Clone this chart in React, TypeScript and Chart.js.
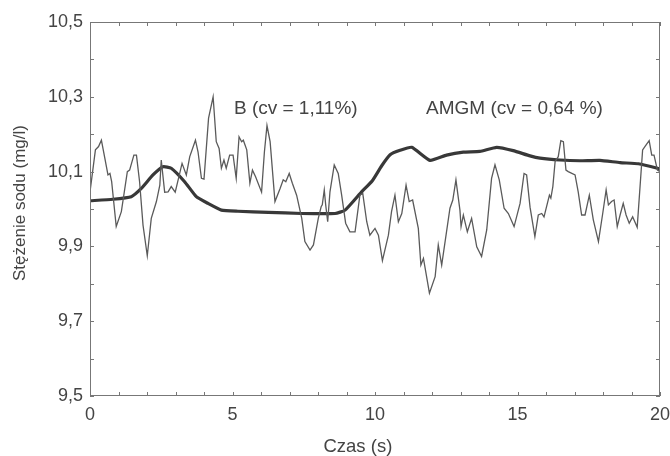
import React, { useEffect, useRef } from "react";
import { Chart, registerables } from "chart.js";

Chart.register(...registerables);

// Series B (thin, noisy)
const B_TIME = [
  0.0, 0.19, 0.3, 0.4, 0.51, 0.63, 0.7, 0.76, 0.92, 1.1, 1.31, 1.39, 1.54, 1.63, 1.74, 1.86, 2.01, 2.15, 2.33, 2.45,
  2.5, 2.62, 2.74, 2.85, 2.99, 3.23, 3.38, 3.5, 3.7, 3.79, 3.91, 4.0, 4.16, 4.32, 4.43, 4.53, 4.61, 4.7, 4.78, 4.9,
  5.02, 5.13, 5.23, 5.32, 5.38, 5.5, 5.61, 5.7, 5.81, 6.02, 6.12, 6.21, 6.32, 6.49, 6.67, 6.78, 6.87, 6.99, 7.1, 7.25,
  7.43, 7.54, 7.72, 7.84, 8.01, 8.11, 8.15, 8.22, 8.27, 8.34, 8.42, 8.57, 8.71, 8.83, 8.97, 9.12, 9.3, 9.47, 9.57, 9.71,
  9.82, 10.0, 10.12, 10.26, 10.47, 10.58, 10.7, 10.82, 10.94, 11.09, 11.2, 11.32, 11.52, 11.61, 11.7, 11.91, 12.11, 12.22, 12.34, 12.63,
  12.73, 12.84, 12.98, 13.02, 13.1, 13.24, 13.39, 13.57, 13.74, 13.92, 14.09, 14.21, 14.36, 14.53, 14.68, 14.88, 15.09, 15.23, 15.32, 15.44,
  15.61, 15.73, 15.85, 15.93, 16.12, 16.17, 16.24, 16.32, 16.43, 16.52, 16.61, 16.7, 16.78, 17.02, 17.13, 17.25, 17.37, 17.52, 17.66, 17.84,
  17.99, 18.11, 18.19, 18.3, 18.39, 18.5, 18.6, 18.71, 18.81, 18.92, 19.04, 19.2, 19.39, 19.47, 19.62, 19.71, 19.79, 19.91, 20.0,
];
const B_VALUES = [
  10.046, 10.158, 10.167, 10.184, 10.14, 10.091, 10.095, 10.073, 9.953, 9.993, 10.1, 10.104, 10.144, 10.144, 10.073, 9.957, 9.875, 9.975, 10.02, 10.064,
  10.131, 10.045, 10.046, 10.06, 10.045, 10.122, 10.091, 10.14, 10.184, 10.153, 10.082, 10.08, 10.243, 10.3, 10.18, 10.162, 10.109, 10.131, 10.109, 10.144,
  10.144, 10.082, 10.193, 10.18, 10.184, 10.158, 10.069, 10.104, 10.086, 10.045, 10.153, 10.223, 10.18, 10.02, 10.055, 10.078, 10.073, 10.095, 10.069, 10.037,
  9.975, 9.913, 9.89, 9.904, 9.975, 10.006, 10.011, 10.051, 10.011, 9.966, 10.046, 10.118, 10.095, 10.037, 9.962, 9.939, 9.939, 10.037, 10.042, 9.966,
  9.93, 9.948, 9.93, 9.862, 9.93, 9.993, 10.037, 9.966, 9.988, 10.064, 10.02, 10.024, 9.948, 9.85, 9.868, 9.775, 9.819, 9.904, 9.85, 10.002,
  10.024, 10.078, 9.997, 9.953, 9.984, 9.939, 9.975, 9.899, 9.873, 9.944, 10.082, 10.118, 10.078, 10.002, 9.988, 9.953, 10.015, 10.095, 10.091, 10.005,
  9.926, 9.984, 9.988, 9.979, 10.037, 10.029, 10.06, 10.127, 10.14, 10.183, 10.18, 10.104, 10.1, 10.091, 10.046, 9.984, 9.984, 10.037, 9.971, 9.913,
  9.988, 10.051, 10.011, 10.02, 10.024, 9.953, 9.984, 10.015, 9.984, 9.962, 9.979, 9.951, 10.158, 10.167, 10.183, 10.144, 10.144, 10.104, 10.1,
];

// Series AMGM (thick, smooth)
const AMGM_TIME = [
  0, 0.8, 1.45, 1.8, 2.21, 2.56, 2.85, 3.32, 3.73, 4.14, 4.61, 5.19, 6.26, 7.43, 8.6, 8.95, 9.53, 9.9, 10.23, 10.53,
  10.88, 11.29, 11.93, 12.51, 13.1, 13.68, 14.27, 14.85, 15.44, 15.79, 16.49, 17.19, 17.89, 18.6, 19.24, 19.91, 20.0,
];
const AMGM_VALUES = [
  10.022, 10.026, 10.033, 10.055, 10.091, 10.113, 10.109, 10.073, 10.033, 10.015, 9.997, 9.994, 9.991, 9.988, 9.988, 9.997, 10.046, 10.075, 10.115, 10.145,
  10.157, 10.165, 10.13, 10.144, 10.152, 10.154, 10.165, 10.156, 10.142, 10.136, 10.131, 10.129, 10.13, 10.124, 10.121, 10.109, 10.106,
];

const X_TICKS = [0, 5, 10, 15, 20];
const X_MINOR = [1, 2, 3, 4, 6, 7, 8, 9, 11, 12, 13, 14, 16, 17, 18, 19];
const Y_TICKS = [9.5, 9.7, 9.9, 10.1, 10.3, 10.5];
const Y_MINOR = [9.6, 9.8, 10.0, 10.2, 10.4];

const X_TITLE = "Czas (s)";
const Y_TITLE = "Stężenie sodu (mg/l)";

const ANNOTATIONS = [
  { text: "B (cv = 1,11%)", x: 5.05, y: 10.267 },
  { text: "AMGM (cv = 0,64 %)", x: 11.79, y: 10.267 },
];

const FONT = "'Liberation Sans', Arial, sans-serif";
const TEXT_COLOR = "#444";

const fmt = (v: number) => v.toFixed(1).replace(".", ",");

export default function App() {
  const ref = useRef<HTMLCanvasElement | null>(null);

  useEffect(() => {
    document.body.style.margin = "0";
    if (!ref.current) return;

    const frame = {
      id: "frame",
      afterDraw(chart: any) {
        const { ctx, chartArea } = chart;
        const xs = chart.scales.x;
        const ys = chart.scales.y;
        const { left, right, top, bottom } = chartArea;
        ctx.save();
        ctx.strokeStyle = "#777";
        ctx.lineWidth = 1;
        ctx.strokeRect(left + 0.5, top + 0.5, right - left - 1, bottom - top - 1);
        ctx.beginPath();
        const tl = 4;
        [...X_TICKS, ...X_MINOR].forEach((t) => {
          const px = Math.round(xs.getPixelForValue(t)) + 0.5;
          ctx.moveTo(px, bottom);
          ctx.lineTo(px, bottom - tl);
          ctx.moveTo(px, top);
          ctx.lineTo(px, top + tl);
        });
        [...Y_TICKS, ...Y_MINOR].forEach((v) => {
          const py = Math.round(ys.getPixelForValue(v)) + 0.5;
          ctx.moveTo(left, py);
          ctx.lineTo(left + tl, py);
          ctx.moveTo(right, py);
          ctx.lineTo(right - tl, py);
        });
        ctx.stroke();
        ctx.fillStyle = TEXT_COLOR;
        ctx.font = `19px ${FONT}`;
        ctx.textBaseline = "middle";
        ctx.textAlign = "left";
        ANNOTATIONS.forEach((a) => {
          ctx.fillText(a.text, xs.getPixelForValue(a.x), ys.getPixelForValue(a.y));
        });
        // axis titles
        ctx.textAlign = "center";
        ctx.font = `18.5px ${FONT}`;
        ctx.fillText(X_TITLE, left + (right - left) * 0.47, bottom + 51);
        ctx.save();
        ctx.font = `17px ${FONT}`;
        ctx.translate(20, top + (bottom - top) * 0.484);
        ctx.rotate(-Math.PI / 2);
        ctx.fillText(Y_TITLE, 0, 0);
        ctx.restore();
        ctx.restore();
      },
    };

    const chart = new Chart(ref.current, {
      type: "line",
      data: {
        datasets: [
          {
            label: "B",
            data: B_TIME.map((t, i) => ({ x: t, y: B_VALUES[i] })),
            borderColor: "#5a5a5a",
            borderWidth: 1.3,
            pointRadius: 0,
            tension: 0,
          },
          {
            label: "AMGM",
            data: AMGM_TIME.map((t, i) => ({ x: t, y: AMGM_VALUES[i] })),
            borderColor: "#383838",
            borderWidth: 3.2,
            pointRadius: 0,
            tension: 0.15,
          },
        ],
      },
      options: {
        animation: false,
        responsive: true,
        maintainAspectRatio: false,
        layout: { padding: { top: 22, right: 10, left: 0, bottom: 0 } },
        plugins: { legend: { display: false }, tooltip: { enabled: false } },
        scales: {
          x: {
            type: "linear",
            min: 0,
            max: 20,
            afterBuildTicks: (s: any) => {
              s.ticks = X_TICKS.map((v) => ({ value: v }));
            },
            afterFit: (s: any) => {
              s.height = 60;
              s.paddingLeft = 0;
              s.paddingRight = 0;
            },
            grid: { display: false, drawTicks: false },
            border: { display: false },
            ticks: {
              padding: 8,
              maxRotation: 0,
              autoSkip: false,
              color: TEXT_COLOR,
              font: { family: FONT, size: 18 },
              callback: (v: any) => String(v),
            },
            title: { display: false },
          },
          y: {
            type: "linear",
            min: 9.5,
            max: 10.5,
            afterBuildTicks: (s: any) => {
              s.ticks = Y_TICKS.map((v) => ({ value: v }));
            },
            afterFit: (s: any) => {
              s.width = 90;
              s.paddingTop = 0;
              s.paddingBottom = 0;
            },
            grid: { display: false, drawTicks: false },
            border: { display: false },
            ticks: {
              padding: 7,
              autoSkip: false,
              color: TEXT_COLOR,
              font: { family: FONT, size: 18 },
              callback: (v: any) => fmt(Number(v)),
            },
            title: { display: false },
          },
        },
      },
      plugins: [frame],
    });

    return () => chart.destroy();
  }, []);

  return (
    <div style={{ position: "fixed", left: 0, top: 0, width: 670, height: 456, background: "#fff" }}>
      <canvas ref={ref} />
    </div>
  );
}
